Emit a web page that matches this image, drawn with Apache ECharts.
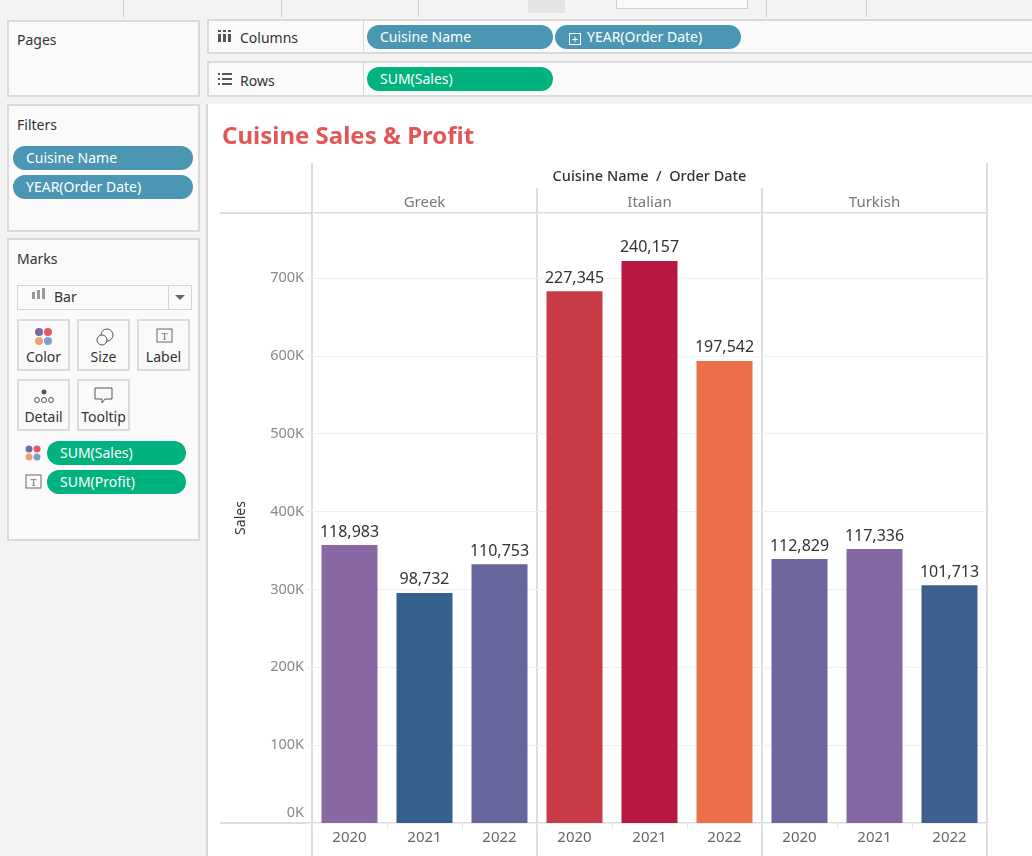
<!DOCTYPE html>
<html>
<head>
<meta charset="utf-8">
<script src="https://cdn.jsdelivr.net/npm/echarts@6/dist/echarts.min.js"></script>
<style>
  html, body { margin: 0; padding: 0; }
  body { width: 1032px; height: 856px; background: #f3f3f3; position: relative; overflow: hidden;
    font-family: "Noto Sans", "Open Sans", sans-serif; color: #333; }
  .box { position: absolute; background: #fafafa; border: 2px solid #d9d9d9; box-sizing: border-box; }
  .ttl { position: absolute; left: 8px; font-size: 14px; color: #333; }
  .pill { position: absolute; height: 24px; line-height: 24px; border-radius: 12px; color: #fff; font-size: 14px;
    padding-left: 13px; box-sizing: border-box; white-space: nowrap; }
  .blue { background: #4b97b3; }
  .green { background: #00b27e; }
  .btn { position: absolute; width: 53px; height: 52px; border: 2px solid #dcdcdc; background: #fafafa;
    box-sizing: border-box; font-size: 14px; text-align: center; }
  .btn span { position: absolute; bottom: 3px; left: 0; right: 0; }
  .sep { position: absolute; top: 0; width: 1px; height: 17px; background: #cfcfcf; }
  #chart { position: absolute; left: 208px; top: 104px; width: 824px; height: 752px; background: #fff; }
</style>
</head>
<body>
<!-- toolbar strip -->
<div style="position:absolute;left:0;top:0;width:1032px;height:17px;background:#f3f3f3;"></div>
<div class="sep" style="left:123px"></div>
<div class="sep" style="left:281px"></div>
<div class="sep" style="left:418px"></div>
<div class="sep" style="left:766px"></div>
<div class="sep" style="left:866px"></div>
<div style="position:absolute;left:528px;top:0;width:37px;height:13px;background:#e4e4e4;"></div>
<div style="position:absolute;left:616px;top:-2px;width:130px;height:9px;border:1px solid #cfcfcf;background:#fafafa;"></div>

<!-- left panels -->
<div class="box" style="left:7px;top:20px;width:193px;height:77px;"><div class="ttl" style="top:8px">Pages</div></div>
<div class="box" style="left:7px;top:104px;width:193px;height:128px;">
  <div class="ttl" style="top:9px">Filters</div>
  <div class="pill blue" style="left:4px;top:40px;width:180px;">Cuisine Name</div>
  <div class="pill blue" style="left:4px;top:69px;width:180px;">YEAR(Order Date)</div>
</div>
<div class="box" style="left:7px;top:238px;width:193px;height:303px;">
  <div class="ttl" style="top:9px">Marks</div>
  <div style="position:absolute;left:8px;top:45px;width:175px;height:25px;border:1px solid #d4d4d4;background:#fafafa;box-sizing:border-box;font-size:14px;">
    <span style="position:absolute;left:14px;top:6px;width:3px;height:7px;background:#999;"></span>
    <span style="position:absolute;left:19px;top:4px;width:3px;height:9px;background:#999;"></span>
    <span style="position:absolute;left:24px;top:2px;width:3px;height:11px;background:#999;"></span>
    <span style="position:absolute;left:36px;top:1px;">Bar</span>
    <span style="position:absolute;right:22px;top:0;width:1px;height:23px;background:#d4d4d4;"></span>
    <span style="position:absolute;right:6px;top:9px;width:0;height:0;border-left:5px solid transparent;border-right:5px solid transparent;border-top:5px solid #666;"></span>
  </div>
  <div class="btn" style="left:8px;top:79px;">
    <svg width="20" height="20" style="position:absolute;left:15px;top:6px"><circle cx="5" cy="5" r="4" fill="#7a6aa0"/><circle cx="14" cy="5" r="4" fill="#e15a6a"/><circle cx="5" cy="14" r="4" fill="#f0a070"/><circle cx="14" cy="14" r="4" fill="#7aa0d0"/></svg>
    <span>Color</span></div>
  <div class="btn" style="left:68px;top:79px;">
    <svg width="20" height="20" style="position:absolute;left:16px;top:6px"><circle cx="12" cy="8" r="6" fill="none" stroke="#555"/><circle cx="7" cy="13" r="5" fill="#fafafa" stroke="#555"/></svg>
    <span>Size</span></div>
  <div class="btn" style="left:128px;top:79px;">
    <svg width="20" height="20" style="position:absolute;left:16px;top:6px"><rect x="2" y="2" width="15" height="13" fill="none" stroke="#666"/><text x="9.5" y="13" font-size="10" text-anchor="middle" fill="#666" font-family="serif">T</text></svg>
    <span>Label</span></div>
  <div class="btn" style="left:8px;top:139px;">
    <svg width="22" height="20" style="position:absolute;left:14px;top:6px"><circle cx="11" cy="5" r="2.5" fill="#555"/><circle cx="4" cy="13" r="2.5" fill="none" stroke="#555"/><circle cx="11" cy="13" r="2.5" fill="none" stroke="#555"/><circle cx="18" cy="13" r="2.5" fill="none" stroke="#555"/></svg>
    <span>Detail</span></div>
  <div class="btn" style="left:68px;top:139px;">
    <svg width="22" height="22" style="position:absolute;left:14px;top:5px"><path d="M2 2 H19 V13 H12 L9 17 L9 13 H2 Z" fill="none" stroke="#555"/></svg>
    <span>Tooltip</span></div>
  <svg width="18" height="18" style="position:absolute;left:16px;top:205px"><circle cx="4" cy="4" r="3.5" fill="#7a6aa0"/><circle cx="12" cy="4" r="3.5" fill="#e15a6a"/><circle cx="4" cy="12" r="3.5" fill="#f0a070"/><circle cx="12" cy="12" r="3.5" fill="#7aa0d0"/></svg>
  <div class="pill green" style="left:38px;top:201px;width:139px;">SUM(Sales)</div>
  <svg width="18" height="18" style="position:absolute;left:16px;top:234px"><rect x="1" y="1" width="15" height="13" fill="none" stroke="#666"/><text x="8.5" y="12" font-size="10" text-anchor="middle" fill="#666" font-family="serif">T</text></svg>
  <div class="pill green" style="left:38px;top:230px;width:139px;">SUM(Profit)</div>
</div>

<!-- shelves -->
<div class="box" style="left:207px;top:19px;width:840px;height:35px;">
  <svg width="14" height="14" style="position:absolute;left:9px;top:9px"><rect x="0" y="0" width="3" height="2" fill="#555"/><rect x="5" y="0" width="3" height="2" fill="#555"/><rect x="10" y="0" width="3" height="2" fill="#555"/><rect x="0" y="4" width="3" height="8" fill="#555"/><rect x="5" y="4" width="3" height="8" fill="#555"/><rect x="10" y="4" width="3" height="8" fill="#555"/></svg>
  <div class="ttl" style="left:31px;top:7px">Columns</div>
  <div style="position:absolute;left:154px;top:0;width:1px;height:31px;background:#d9d9d9;"></div>
  <div class="pill blue" style="left:158px;top:4px;width:186px;">Cuisine Name</div>
  <div class="pill blue" style="left:346px;top:4px;width:186px;padding-left:14px;"><span style="display:inline-block;width:10px;height:10px;border:1px solid #fff;line-height:9px;font-size:11px;text-align:center;margin-right:6px;vertical-align:-1px;">+</span>YEAR(Order Date)</div>
</div>
<div class="box" style="left:207px;top:61px;width:840px;height:36px;">
  <svg width="14" height="14" style="position:absolute;left:9px;top:10px"><rect x="0" y="0" width="2" height="2" fill="#555"/><rect x="4" y="0" width="10" height="2" fill="#555"/><rect x="0" y="5" width="2" height="2" fill="#555"/><rect x="4" y="5" width="10" height="2" fill="#555"/><rect x="0" y="10" width="2" height="2" fill="#555"/><rect x="4" y="10" width="10" height="2" fill="#555"/></svg>
  <div class="ttl" style="left:31px;top:8px">Rows</div>
  <div style="position:absolute;left:154px;top:0;width:1px;height:32px;background:#d9d9d9;"></div>
  <div class="pill green" style="left:158px;top:4px;width:186px;">SUM(Sales)</div>
</div>
<div style="position:absolute;left:206px;top:104px;width:2px;height:752px;background:#d9d9d9;"></div>

<div id="chart"></div>
<script>
const cuisines = ['Greek', 'Italian', 'Turkish'];
const years = ['2020', '2021', '2022'];
// SUM(Sales) per cuisine x year, in order Greek 20/21/22, Italian ..., Turkish ...
const sales = [357000, 295500, 332500, 683000, 722000, 593500, 339000, 352000, 305500];
// SUM(Profit) shown as bar labels
const profit = [118983, 98732, 110753, 227345, 240157, 197542, 112829, 117336, 101713];
// colour of each bar (Tableau colours by SUM(Sales))
const barColors = ['#8a68a3', '#34618d', '#66669d', '#c83a45', '#b8173f', '#eb704a', '#6f669e', '#8267a2', '#3e608e'];
const yTicks = [0, 100000, 200000, 300000, 400000, 500000, 600000, 700000];

const W = 824, H = 752;
const G = { left: 104, right: 45, top: 109, bottom: 33 };
const plotW = W - G.left - G.right;
const font = '"Noto Sans", "Open Sans", sans-serif';

const yearCats = [];
cuisines.forEach(() => years.forEach((y) => yearCats.push(y)));

const fmt = (n) => n.toLocaleString('en-US');

// pane separators and header rules (not data marks)
const lines = [];
const hline = (y) => ({ type: 'line', shape: { x1: 12, y1: y, x2: G.left + plotW, y2: y }, style: { stroke: '#d0d0d0', lineWidth: 1.5 }, silent: true });
lines.push(hline(G.top), hline(H - G.bottom));
for (let i = 0; i <= cuisines.length; i++) {
  const x = G.left + (plotW / cuisines.length) * i;
  const edge = i === 0 || i === cuisines.length;
  lines.push({ type: 'line', shape: { x1: x, y1: edge ? 59 : 84, x2: x, y2: H }, style: { stroke: '#d0d0d0', lineWidth: 1.5 }, silent: true });
}

const chart = echarts.init(document.getElementById('chart'), null, { renderer: 'canvas', width: W, height: H });
chart.setOption({
  animation: false,
  textStyle: { fontFamily: font },
  title: {
    text: 'Cuisine Sales & Profit', left: 9, top: 16,
    textStyle: { fontSize: 24, fontWeight: 'bold', color: '#e15759', fontFamily: font },
  },
  graphic: [
    ...lines,
    { type: 'text', x: G.left + plotW / 2, y: 73,
      style: { text: 'Cuisine Name  /  Order Date', fontSize: 14.5, fill: '#333', fontFamily: font, fontWeight: 500,
        align: 'center', verticalAlign: 'middle' } },
  ],
  grid: { left: G.left, right: G.right, top: G.top, bottom: G.bottom },
  xAxis: [
    {
      type: 'category', data: yearCats, position: 'bottom',
      axisLine: { show: false },
      axisTick: { show: true, length: 6, lineStyle: { color: '#e6e6e6' } },
      axisLabel: { color: '#666', fontSize: 15, margin: 7 },
    },
    {
      type: 'category', data: cuisines, position: 'top',
      axisLine: { show: false }, axisTick: { show: false },
      axisLabel: { color: '#777', fontSize: 15, margin: 3 },
    },
  ],
  yAxis: {
    type: 'value', min: 0, max: 783500, interval: 100000,
    name: 'Sales', nameLocation: 'middle', nameGap: 64, nameRotate: 90,
    nameTextStyle: { color: '#333', fontSize: 14 },
    axisLine: { show: false },
    axisTick: { show: true, length: 6, lineStyle: { color: '#eeeeee' } },
    axisLabel: {
      color: '#888', fontSize: 14.5, margin: 8, showMaxLabel: false,
      // Tableau lifts the zero label above the axis rule
      formatter: (v) => (v === 0 ? '{z|0K}' : (yTicks.includes(v) ? v / 1000 + 'K' : '')),
      rich: { z: { color: '#888', fontSize: 14.5, padding: [0, 0, 20, 0] } },
    },
    splitLine: { lineStyle: { color: '#efefef', width: 1 } },
  },
  series: [{
    type: 'bar', xAxisIndex: 0, barWidth: 56,
    data: sales.map((v, i) => ({ value: v, itemStyle: { color: barColors[i] } })),
    label: {
      show: true, position: 'top', distance: 5, color: '#333', fontSize: 16,
      formatter: (p) => fmt(profit[p.dataIndex]),
    },
  }],
});
</script>
</body>
</html>
